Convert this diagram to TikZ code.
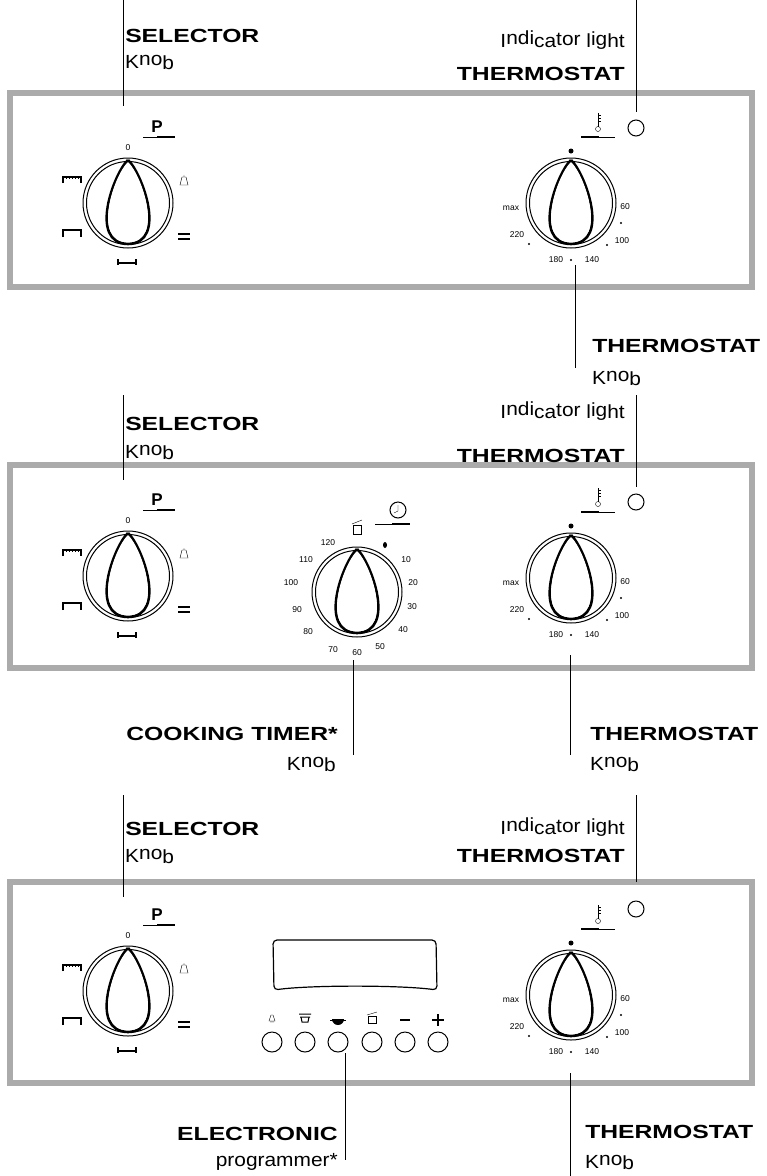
\documentclass[tikz,border=0pt]{standalone}
\usepackage{fontspec}
\setmainfont{Liberation Sans}
\begin{document}
\begin{tikzpicture}[x=1pt,y=-1pt,
  panel/.style={draw=black!33,line width=6pt},
  lead/.style={line width=0.9pt},
  big/.style={font=\bfseries\fontsize{19}{20}\selectfont,xscale=1.3,inner sep=0pt},
  small/.style={font=\fontsize{19}{20}\selectfont,xscale=1.1,inner sep=0pt},
  tiny/.style={font=\fontsize{8.5}{8.5}\selectfont,inner sep=0pt},
  knob/.pic={
    \draw[line width=1pt] (0,0) circle (45);
    \draw[line width=1pt] (0,0) circle (41.5);
    \draw[line width=2.6pt] (0,-43) .. controls (-14,-30) and (-40,40) .. (0,41) .. controls (40,40) and (14,-30) .. (0,-43);
    \draw[line width=1.2pt,white] (0,-40) .. controls (-13,-28) and (-36,38) .. (0,38.5) .. controls (36,38) and (13,-28) .. (0,-40);
  },
  selsym/.pic={
    \node[tiny] at (0,-55) {0};
    \node[font=\bfseries\fontsize{17}{17}\selectfont] at (29,-76) {P};
    \draw[line width=1pt] (15,-66) -- (47,-66);
    \draw[line width=2pt] (29,-66) -- (47,-66);
    \draw (56,-28) -- (56,-26) (54,-26) -- (58,-26) -- (60,-18) -- (52,-18) -- cycle;
    \draw[line width=1.2pt] (50,31) -- (62,31) (50,36) -- (62,36);
    \draw[line width=1.2pt] (-65,-20) -- (-65,-26) -- (-47,-26) -- (-47,-20);
    \foreach \i in {-62,-59,...,-50} \draw (\i,-26) -- (\i,-24);
    \draw[line width=1.2pt] (-65,34) -- (-65,27) -- (-47,27) -- (-47,34);
    \draw[line width=1.2pt] (-10,56) -- (-10,62) (-10,60) -- (8,60) (8,56) -- (8,62);
  },
  thermsym/.pic={
    \fill (0,-52) circle (2.5);
    \draw[line width=1pt] (10,-66) -- (44,-66);
    \draw[line width=2pt] (10,-66) -- (28,-66);
    \draw[line width=1pt] (27,-90) -- (27,-76); \draw (27,-74) circle (2.5);
    \foreach \i in {-88,-85,-82} \draw (28,\i) -- (30,\i);
    \node[tiny] at (-60,5) {max};
    \node[tiny] at (-54,32) {220};
    \node[tiny] at (-15,57) {180};
    \node[tiny] at (21,57) {140};
    \node[tiny] at (54,4) {60};
    \node[tiny] at (51,38) {100};
    \fill (0,57) circle (1.2) (-42,41) circle (1.2) (36,42) circle (1.2) (50,20) circle (1.2);
  },
]
\useasboundingbox (0,0) rectangle (767,1176);
% panels
\draw[panel] (10,93) rectangle (752,287);
\draw[panel] (10,465) rectangle (752,668);
\draw[panel] (10,882) rectangle (752,1083);
% knobs
\foreach \y/\n in {203/1,576/2,991/3} {
  \pic at (128,\y) {knob}; \pic at (128,\y) {selsym};
}
\foreach \y/\n in {203/1,578/2,995/3} {
  \pic at (571,\y) {knob}; \pic at (571,\y) {thermsym};
}
% indicator lights
\foreach \y/\n in {128/1,502/2,909/3} \draw[line width=1pt] (636,\y) circle (8) coordinate (ind\n);
% timer
\pic at (357,592) {knob};
\foreach \t/\x/\yy in {120/328/543,110/306/560,100/291/583,90/297/610,80/308/632,70/333/650,60/357/653,50/380/647,40/403/630,30/412/607,20/413/583,10/406/560}
  \node[tiny] at (\x,\yy) {\t};
\fill (385,545) ellipse (2 and 3);
\draw (353,525) rectangle (361,534); \draw (352,524) -- (362,520);
\draw[line width=1pt] (398,510) circle (8); \draw (398,505) -- (398,511) -- (394,513);
\draw[line width=1pt] (375,524) -- (410,524); \draw[line width=2pt] (392,524) -- (410,524);
% programmer
\draw[line width=1.2pt, rounded corners=4pt] (273,940) -- (436,940) -- (437,990) .. controls (400,985) and (310,985) .. (274,990) -- cycle;
\foreach \x/\n in {272/1,305/2,338/3,372/4,405/5,438/6} \draw[line width=1pt] (\x,1042) circle (10) coordinate (b\n);
\draw (270,1022) -- (274,1022) (269,1021) -- (271,1015) -- (273,1015) -- (275,1021) -- cycle;
\draw[line width=1pt] (299,1014) -- (311,1014) (300,1017) -- (310,1017) (301,1017) -- (302,1022) -- (308,1022) -- (309,1017);
\fill (332,1019) arc (180:0:6) -- cycle; \draw[line width=1pt] (330,1020) -- (346,1020);
\draw (368,1016) rectangle (376,1023); \draw (367,1015) -- (377,1012);
\draw[line width=1.5pt] (400,1020) -- (410,1020);
\draw[line width=1.5pt] (432,1020) -- (444,1020) (438,1014) -- (438,1026);
% leaders & labels, top panel
\draw[lead] (123,0) -- (123,106);
\node[big,anchor=base west] at (125,42) {SELECTOR};
\node[small,anchor=base west] at (125,68) {K\raisebox{3pt}{no}\raisebox{-1pt}{b}};
\draw[lead] (636,0) -- (636,112);
\node[small,anchor=base east] at (625,47) {I\raisebox{3pt}{ndi}ca\raisebox{2pt}{tor} l\raisebox{2pt}{ig}ht};
\node[big,anchor=base east] at (625,80) {THERMOSTAT};
\draw[lead] (575,265) -- (575,368);
\node[big,anchor=base west] at (592,352) {THERMOSTAT};
\node[small,anchor=base west] at (592,384) {K\raisebox{3pt}{no}\raisebox{-1pt}{b}};
% middle
\draw[lead] (123,395) -- (123,480);
\node[big,anchor=base west] at (125,430) {SELECTOR};
\node[small,anchor=base west] at (125,458) {K\raisebox{3pt}{no}\raisebox{-1pt}{b}};
\draw[lead] (636,395) -- (636,487);
\node[small,anchor=base east] at (625,418) {I\raisebox{3pt}{ndi}ca\raisebox{2pt}{tor} l\raisebox{2pt}{ig}ht};
\node[big,anchor=base east] at (625,462) {THERMOSTAT};
\draw[lead] (353,660) -- (353,755);
\node[big,anchor=base east] at (338,740) {COOKING TIMER*};
\node[small,anchor=base east] at (336,770) {K\raisebox{3pt}{no}\raisebox{-1pt}{b}};
\draw[lead] (570,655) -- (570,755);
\node[big,anchor=base west] at (590,740) {THERMOSTAT};
\node[small,anchor=base west] at (590,770) {K\raisebox{3pt}{no}\raisebox{-1pt}{b}};
% bottom
\draw[lead] (123,795) -- (123,897);
\node[big,anchor=base west] at (125,835) {SELECTOR};
\node[small,anchor=base west] at (125,862) {K\raisebox{3pt}{no}\raisebox{-1pt}{b}};
\draw[lead] (636,795) -- (636,882);
\node[small,anchor=base east] at (625,834) {I\raisebox{3pt}{ndi}ca\raisebox{2pt}{tor} l\raisebox{2pt}{ig}ht};
\node[big,anchor=base east] at (625,862) {THERMOSTAT};
\draw[lead] (345,1053) -- (345,1160);
\node[big,anchor=base east] at (338,1140) {ELECTRONIC};
\node[small,anchor=base east] at (338,1166) {programmer*};
\draw[lead] (570,1073) -- (570,1176);
\node[big,anchor=base west] at (585,1138) {THERMOSTAT};
\node[small,anchor=base west] at (585,1168) {K\raisebox{3pt}{no}\raisebox{-1pt}{b}};
\end{tikzpicture}
\end{document}
